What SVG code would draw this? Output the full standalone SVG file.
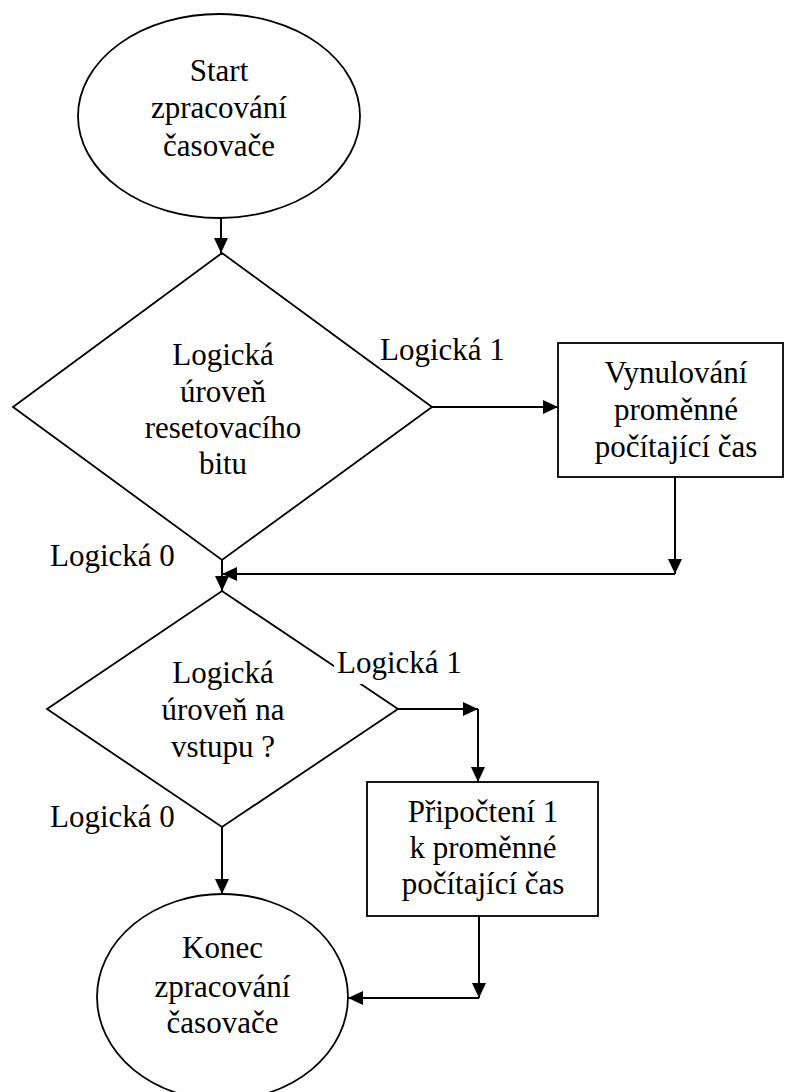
<svg xmlns="http://www.w3.org/2000/svg" width="786" height="1092" viewBox="0 0 786 1092">
<defs>
<style>
.shape{fill:#fff;stroke:#000;stroke-width:1.8}
.conn{fill:none;stroke:#000;stroke-width:2}
</style>
<marker id="ah" markerUnits="userSpaceOnUse" markerWidth="16" markerHeight="14" refX="15" refY="7" orient="auto">
<path d="M0,0 L15,7 L0,14 Z" fill="#000"/>
</marker>
</defs>
<rect width="786" height="1092" fill="#fff"/>
<g id="connectors">
<path class="conn" d="M221,218 L221,253" marker-end="url(#ah)"/>
<path class="conn" d="M432,407 L558,407" marker-end="url(#ah)"/>
<path class="conn" d="M675,477 L675,574" marker-end="url(#ah)"/>
<path class="conn" d="M675,574 L222,574" marker-end="url(#ah)"/>
<path class="conn" d="M222,560 L222,591" marker-end="url(#ah)"/>
<path class="conn" d="M398,709 L478,709" marker-end="url(#ah)"/>
<path class="conn" d="M478,709 L478,782" marker-end="url(#ah)"/>
<path class="conn" d="M222,827 L222,894" marker-end="url(#ah)"/>
<path class="conn" d="M479,916 L479,998" marker-end="url(#ah)"/>
<path class="conn" d="M479,998 L348,998" marker-end="url(#ah)"/>
</g>
<g font-family="Liberation Serif" font-size="31" fill="#000">
<g id="start" text-anchor="middle">
<ellipse class="shape" cx="219" cy="116" rx="141" ry="102"/>
<text x="219" y="81">Start</text>
<text x="219" y="118">zpracování</text>
<text x="219" y="156">časovače</text>
</g>
<g id="decision1" text-anchor="middle">
<polygon class="shape" points="222,253 432,407 222,560 13,407"/>
<text x="223" y="365">Logická</text>
<text x="223" y="402">úroveň</text>
<text x="223" y="438">resetovacího</text>
<text x="223" y="474">bitu</text>
</g>
<g id="reset" text-anchor="middle">
<rect class="shape" x="558" y="343" width="225" height="134"/>
<text x="676" y="383">Vynulování</text>
<text x="676" y="420">proměnné</text>
<text x="676" y="457">počítající čas</text>
</g>
<g id="decision2" text-anchor="middle">
<polygon class="shape" points="222,591 398,709 222,827 47,709"/>
<text x="223" y="683">Logická</text>
<text x="223" y="720">úroveň na</text>
<text x="223" y="757">vstupu ?</text>
</g>
<g id="increment" text-anchor="middle">
<rect class="shape" x="367" y="782" width="231" height="134"/>
<text x="483" y="822">Připočtení 1</text>
<text x="483" y="858">k proměnné</text>
<text x="483" y="894">počítající čas</text>
</g>
<g id="end" text-anchor="middle">
<ellipse class="shape" cx="222.5" cy="997" rx="125.5" ry="103"/>
<text x="222.5" y="958">Konec</text>
<text x="222.5" y="997">zpracování</text>
<text x="222.5" y="1033">časovače</text>
</g>
<g id="labels">
<text x="380" y="360">Logická 1</text>
<text x="50" y="566">Logická 0</text>
<rect x="334" y="652" width="132" height="32" fill="#fff"/>
<text x="337" y="673">Logická 1</text>
<text x="50" y="827">Logická 0</text>
</g>
</g>
</svg>
